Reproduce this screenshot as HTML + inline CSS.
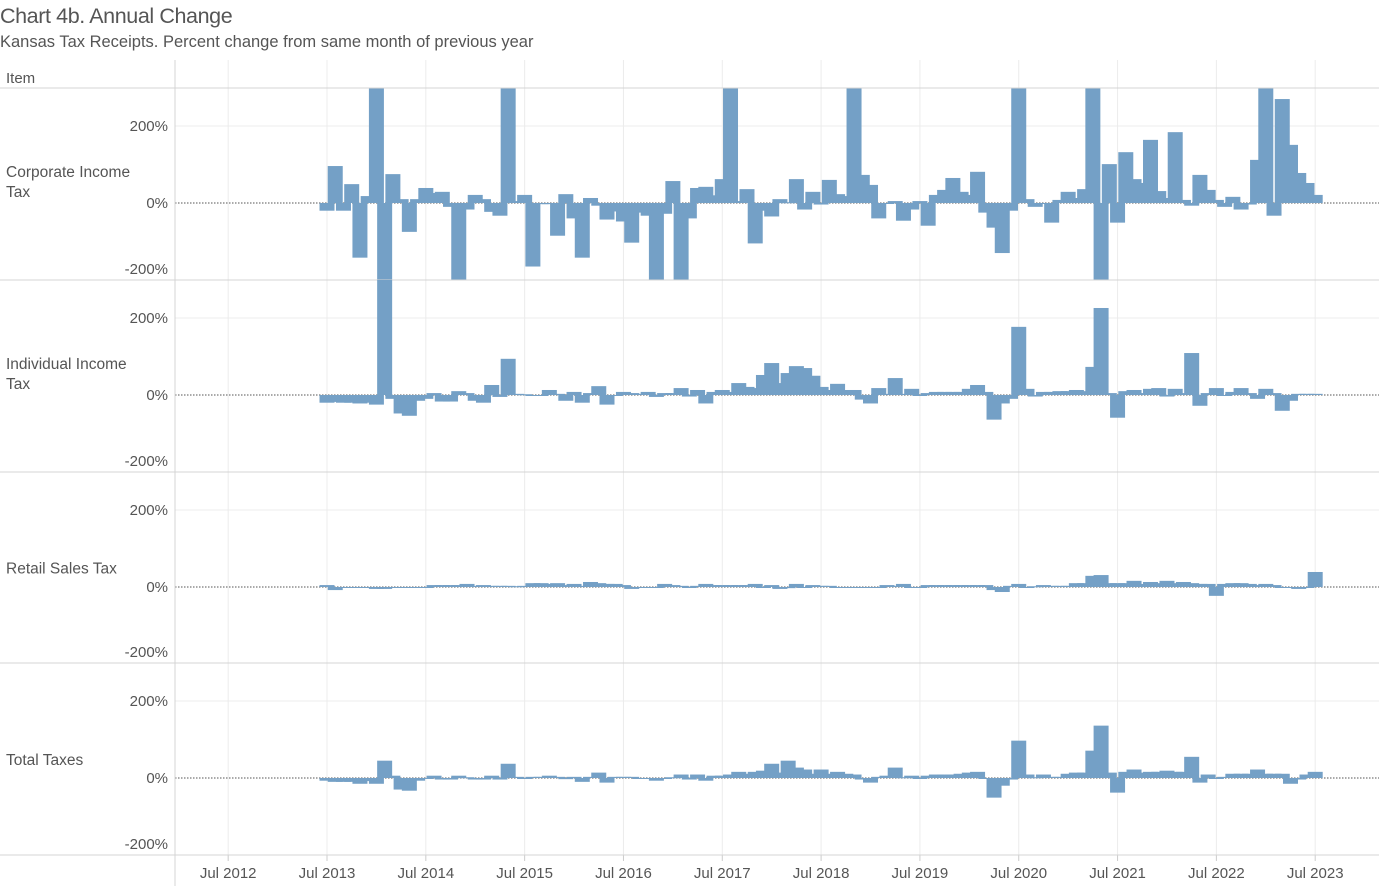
<!DOCTYPE html>
<html><head><meta charset="utf-8"><style>
body{margin:0;background:#fff;font-family:"Liberation Sans",sans-serif;}
#wrap{position:relative;width:1379px;height:886px;overflow:hidden;}
.t{position:absolute;white-space:nowrap;color:#555;}
</style></head><body>
<div id="wrap">
<div class="t" style="left:0;top:4px;font-size:21.5px;color:#555;letter-spacing:-0.4px">Chart 4b. Annual Change</div>
<div class="t" style="left:0;top:33px;font-size:16.5px;color:#555;letter-spacing:0px">Kansas Tax Receipts. Percent change from same month of previous year</div>
<svg id="chart" width="1379" height="886" style="position:absolute;left:0;top:0"></svg>
</div>
<script>
const panelNames = ["Corporate Income Tax","Individual Income Tax","Retail Sales Tax","Total Taxes"];
const yearLabels = ["Jul 2012","Jul 2013","Jul 2014","Jul 2015","Jul 2016","Jul 2017","Jul 2018","Jul 2019","Jul 2020","Jul 2021","Jul 2022","Jul 2023"];
const yTickValues = [200,0,-200];
const yTickLabels = ["200%","0%","-200%"];
const corporate = [-20,96,-20,49,-142,18,300,-250,75,10,-75,10,39,26,29,-10,-200,-17,21,10,-23,-33,300,5,21,-165,-3,-3,-85,23,-40,-142,13,-7,-43,-22,-48,-103,-25,-33,-200,-28,57,
-200,-40,39,42,20,62,300,5,36,-105,-20,-35,10,2,62,-17,29,-4,60,23,18,300,73,47,-40,0,5,-46,-17,5,-59,21,34,65,29,21,81,-25,-64,-130,
-20,300,10,-10,0,-51,8,29,13,36,300,-200,101,-51,132,62,52,164,31,13,184,8,-7,73,34,8,-10,16,-17,-4,112,300,-33,270,151,78,52,21];
const individual = [-20,-18,-20,-20,-22,-20,-25,300,-10,-48,-54,-15,-10,5,-17,-17,10,5,-15,-20,26,-5,94,3,2,0,0,13,3,-15,8,-20,5,23,-25,0,8,5,3,8,-5,5,5,
18,-4,13,-22,8,13,8,31,21,18,52,83,31,57,75,70,50,21,13,29,13,13,-12,-22,18,3,44,3,16,-2,5,8,8,8,8,16,26,8,-64,-22,
-10,177,16,-4,8,8,10,10,13,10,73,226,5,-59,10,13,5,16,18,-4,16,5,109,-28,5,18,0,8,18,5,-10,16,5,-41,-15,3,3,3];
const retail = [5,-8,-1,-1,-1,-1,-5,-5,-1,0,0,0,0,5,5,5,5,8,3,5,3,3,3,2,3,10,10,8,10,5,8,3,13,10,8,8,5,-5,0,0,0,8,5,3,0,3,8,5,5,5,5,5,8,0,5,-5,-3,8,0,5,3,
3,0,0,0,0,0,0,5,3,8,0,0,5,5,5,5,5,5,5,5,-8,-13,3,8,-2,2,5,3,3,3,10,10,29,31,10,10,10,16,8,13,10,16,10,13,10,8,8,-23,8,10,10,8,5,8,5,0,0,-5,0,39];
const total = [-7,-10,-10,-10,-15,-8,-15,45,6,-30,-33,-7,0,6,-4,-4,6,2,-4,-4,6,-4,37,3,-1,3,3,6,3,-3,3,-10,3,14,-12,3,3,3,-1,-1,-7,-1,2,9,-4,9,-7,6,6,9,16,11,16,19,37,14,45,27,22,11,
22,11,16,11,9,-4,-12,3,6,27,2,6,-1,6,9,9,9,11,14,16,-1,-51,-20,-4,97,9,2,9,3,3,11,14,14,71,136,14,-38,16,22,14,16,16,19,16,16,55,-12,9,-1,3,11,11,11,22,11,11,11,-15,-4,9,16];
const series = [corporate, individual, retail, total];

const NS = "http://www.w3.org/2000/svg";
const svg = document.getElementById('chart');
const panelTop = [88,280,472,663], panelBot = [280,472,663,855];
const zeroY = [203,395,587,778];
const pxPerPct = 0.385;
const x0 = 327, monthPx = 8.235;
function xScale(i){ return x0 + i*monthPx; }
function yScale(p, v){ return zeroY[p] - v*pxPerPct; }
function mk(tag, attrs){ const e=document.createElementNS(NS,tag); for(const k in attrs) e.setAttribute(k,attrs[k]); svg.appendChild(e); return e; }

const hd = mk('text',{x:6,y:83,'font-size':15,fill:'#555','font-family':'Liberation Sans, sans-serif'});
hd.textContent='Item';



yearLabels.forEach((lab, k) => {
  const x = xScale((k-1)*12);
  const g = mk('line',{x1:x,x2:x,y1:60,y2:855,stroke:'#ececec','stroke-width':1});
  
  
  const tk = mk('line',{x1:x,x2:x,y1:855,y2:861,stroke:'#ccc'});
  
  
  const t = mk('text',{x:x,y:878,'text-anchor':'middle','font-size':15,fill:'#555','font-family':'Liberation Sans, sans-serif'});
  t.textContent = lab;
  
  
});

for(let p=0;p<4;p++){
  yTickValues.forEach((v,k)=>{
    const y = yScale(p,v);
    if(v!==0 && y>panelTop[p] && y<panelBot[p]){
      const g = mk('line',{x1:175,x2:1379,y1:y,y2:y,stroke:'#ececec'});
      
      
    }
    let ty = y+5;
    if(ty>panelBot[p]-6) ty = panelBot[p]-6;
    const t = mk('text',{x:168,y:ty,'text-anchor':'end','font-size':15,fill:'#555','font-family':'Liberation Sans, sans-serif'});
    t.textContent = yTickLabels[k];
    
    
  });
  const cp = mk('clipPath',{id:'clip'+p});
  const cr = document.createElementNS(NS,'rect');
  cr.setAttribute('x',175); cr.setAttribute('y',panelTop[p]); cr.setAttribute('width',1204); cr.setAttribute('height',panelBot[p]-panelTop[p]);
  cp.appendChild(cr);
  const grp = mk('g',{'clip-path':'url(#clip'+p+')'});
  
  
  const z = document.createElementNS(NS,'line');
  z.setAttribute('x1',175); z.setAttribute('x2',1379); z.setAttribute('y1',zeroY[p]); z.setAttribute('y2',zeroY[p]);
  z.setAttribute('stroke','#555'); z.setAttribute('stroke-dasharray','1.5,1.5');
  
  
  grp.appendChild(z);
  series[p].forEach((v,i)=>{
    const cx = xScale(i);
    const y0 = yScale(p,0), y1 = yScale(p,v);
    const r = document.createElementNS(NS,'rect');
    r.setAttribute('x',cx-7.5); r.setAttribute('width',15);
    r.setAttribute('y',Math.min(y0,y1)); r.setAttribute('height',Math.max(1,Math.abs(y1-y0)));
    r.setAttribute('fill','#74a0c6');
    
    
    grp.appendChild(r);
  });
  const words = panelNames[p];
  const lines = words==="Corporate Income Tax"?["Corporate Income","Tax"]:words==="Individual Income Tax"?["Individual Income","Tax"]:[words];
  const midY = (panelTop[p]+panelBot[p])/2 + (lines.length>1?-7:6);
  lines.forEach((ln,k)=>{
    const t = mk('text',{x:6,y:midY+k*20,'font-size':15.5,fill:'#555','font-family':'Liberation Sans, sans-serif'});
    t.textContent = ln;
    
    
  });
  const sep = mk('line',{x1:0,x2:1379,y1:panelBot[p],y2:panelBot[p],stroke:'#d4d4d4'});
  
  
}
const headerLine = mk('line',{x1:0,x2:1379,y1:88,y2:88,stroke:'#d4d4d4'});


const dividerLine = mk('line',{x1:175,x2:175,y1:60,y2:886,stroke:'#d4d4d4'});


</script>
</body></html>
